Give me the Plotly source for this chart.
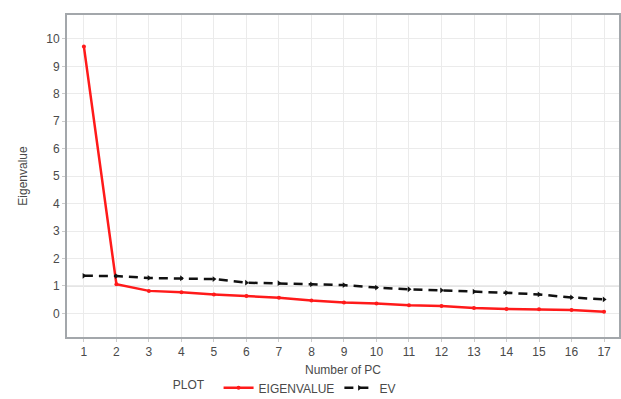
import plotly.graph_objects as go

pc = list(range(1, 18))
eigenvalue = [9.72, 1.06, 0.82, 0.77, 0.69, 0.63, 0.57, 0.47, 0.40, 0.36, 0.30, 0.27, 0.20, 0.16, 0.15, 0.12, 0.06]
ev = [1.37, 1.36, 1.29, 1.28, 1.25, 1.12, 1.10, 1.06, 1.03, 0.94, 0.88, 0.84, 0.79, 0.75, 0.69, 0.58, 0.51]
y_ticks = list(range(0, 11))

fig = go.Figure()
fig.add_trace(go.Scatter(
    x=pc, y=eigenvalue, name="EIGENVALUE", mode="lines+markers",
    line=dict(color="#ff1a1a", width=2.5),
    marker=dict(color="#ff1a1a", size=4, symbol="circle"),
))
fig.add_trace(go.Scatter(
    x=pc, y=ev, name="EV", mode="lines+markers",
    line=dict(color="#111111", width=2.5, dash="9px,6px"),
    marker=dict(color="#111111", size=5, symbol="triangle-right"),
))

fig.add_shape(type="line", xref="paper", x0=0, x1=1, yref="y", y0=1, y1=1,
              line=dict(color="#c4c4c4", width=1), layer="below")

fig.add_annotation(text="Number of PC", xref="paper", x=0.5, xanchor="center",
                   yref="paper", y=-0.1025, yanchor="middle", showarrow=False,
                   font=dict(size=12, color="#4a4a4a"))

fig.update_layout(
    width=621, height=399,
    margin=dict(l=67, r=2, t=15, b=62, autoexpand=False),
    paper_bgcolor="white", plot_bgcolor="white",
    font=dict(family="Liberation Sans, Arial, sans-serif", size=12, color="#4a4a4a"),
    showlegend=True,
    legend=dict(
        orientation="h", xref="container", x=0.275, xanchor="left",
        yref="container", y=0.028, yanchor="middle",
        title=dict(text="PLOT  ", font=dict(size=12, color="#4a4a4a")),
        font=dict(size=12, color="#4a4a4a"),
        tracegroupgap=0,
    ),
    xaxis=dict(
        range=[0.48, 17.46], tickmode="array", tickvals=pc,
        showgrid=True, gridcolor="#ebebeb", gridwidth=1,
        showline=True, linecolor="#a3a7ab", linewidth=2, mirror=True,
        ticks="outside", ticklen=3, tickcolor="#cccccc",
        zeroline=False, automargin=False,
        tickfont=dict(size=12, color="#4a4a4a"),
    ),
    yaxis=dict(
        range=[-0.86, 10.87], tickmode="array", tickvals=y_ticks,
        showgrid=True, gridcolor="#ebebeb", gridwidth=1,
        showline=True, linecolor="#a3a7ab", linewidth=2, mirror=True,
        ticks="outside", ticklen=3, tickcolor="#cccccc",
        zeroline=False, automargin=False,
        title=dict(text="Eigenvalue", font=dict(size=12, color="#4a4a4a"), standoff=16),
        tickfont=dict(size=12, color="#4a4a4a"),
    ),
)

fig.write_html("out.html", config={"displayModeBar": False},
               post_script="document.body.style.margin='0px';")
